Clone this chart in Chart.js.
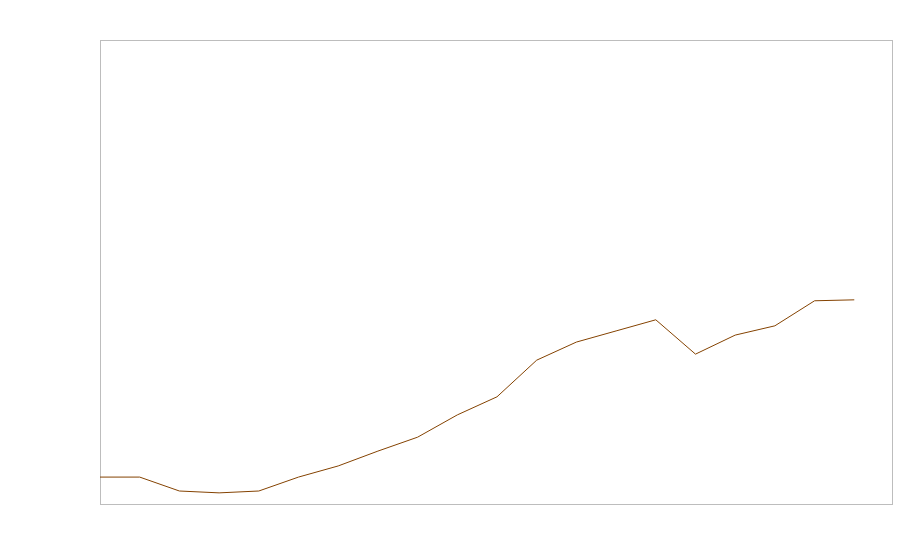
<!DOCTYPE html>
<html lang="en">
<head>
  <meta charset="UTF-8">
  <title>Line chart</title>
  <style>
    body { margin: 0; background: #fff; }
  </style>
</head>
<body>
  <canvas id="lineChart" width="900" height="560"></canvas>
  <script src="https://cdn.jsdelivr.net/npm/chart.js"></script>
  <script>
// values (unlabelled axes, 0..100 scale)
const xValues = [0, 1, 2, 3, 4, 5, 6, 7, 8, 9, 10, 11, 12, 13, 14, 15, 16, 17, 18, 19];
const yValues = [5.8, 5.8, 2.8, 2.4, 2.8, 5.8, 8.2, 11.4, 14.4, 19.2, 23.1, 31.0, 34.9, 37.3, 39.7, 32.3, 36.4, 38.4, 43.8, 44.0];
const xRange = [0, 19.95];
const yRange = [0, 100];

// grey frame round the plot area
const frame = {
  id: 'frame',
  beforeDatasetsDraw(chart) {
    const { ctx, chartArea: a } = chart;
    ctx.save();
    ctx.strokeStyle = '#bdbdbd';
    ctx.lineWidth = 1;
    ctx.strokeRect(Math.round(a.left) + 0.5, Math.round(a.top) + 0.5, Math.round(a.right - a.left), Math.round(a.bottom - a.top));
    ctx.restore();
  }
};

const ctx = document.getElementById('lineChart').getContext('2d');
new Chart(ctx, {
  type: 'line',
  data: {
    datasets: [{
      data: xValues.map((x, i) => ({ x: x, y: yValues[i] })),
      borderColor: '#844200',
      borderWidth: 1,
      pointRadius: 0,
      fill: false,
      tension: 0
    }]
  },
  options: {
    responsive: false,
    animation: false,
    layout: { padding: { left: 100, top: 40, right: 8, bottom: 56 } },
    plugins: { legend: { display: false }, tooltip: { enabled: false } },
    scales: {
      x: { type: 'linear', min: xRange[0], max: xRange[1], display: false },
      y: { min: yRange[0], max: yRange[1], display: false }
    }
  },
  plugins: [frame]
});
  </script>
</body>
</html>
